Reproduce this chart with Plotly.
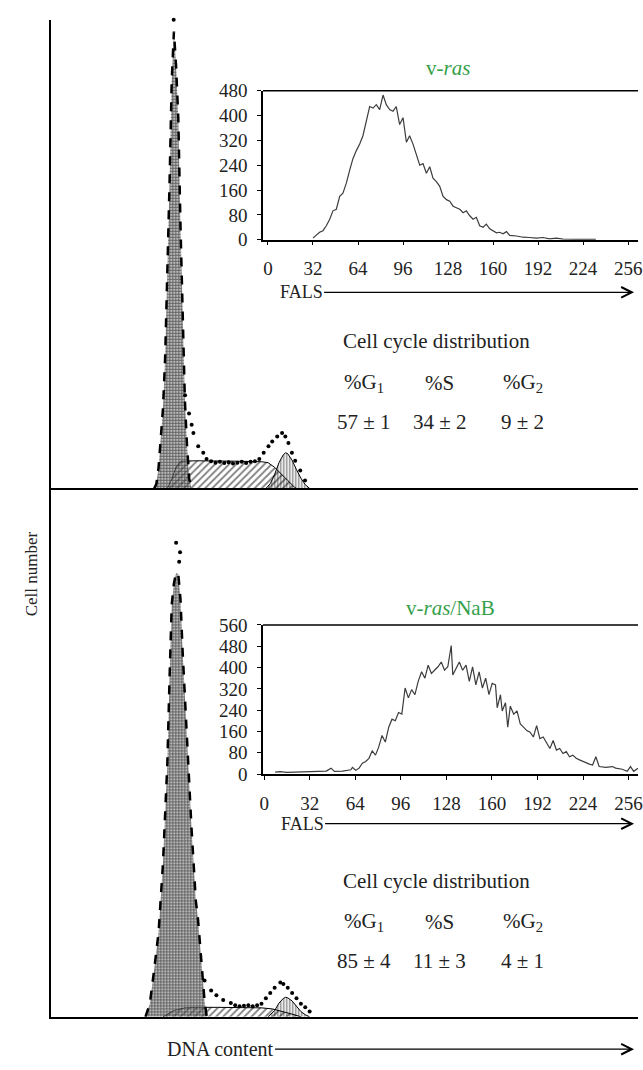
import plotly.graph_objects as go

# ---------------------------------------------------------------------------
# main DNA histograms (channel, cell count)

# v-ras : fitted G1 / S / G2 components and raw data points
UP_G1_CH = [41, 42, 43, 44, 45, 46, 47, 48, 49, 50, 51, 52, 53, 54, 55, 56, 57, 58]
UP_G1 = [0, 10, 45, 100, 170, 280, 440, 650, 870, 975, 900, 790, 560, 340, 190, 90, 20, 0]
UP_S_CH = [47, 49, 51, 53, 60, 70, 80, 90, 93, 96, 99, 102, 105, 106]
UP_S = [0, 20, 45, 58, 59, 59, 58, 57, 55, 45, 32, 17, 3, 0]
UP_G2_CH = [92, 94, 96, 98, 100, 101, 102, 104, 106, 108, 110, 112]
UP_G2 = [0, 10, 30, 55, 72, 76, 74, 60, 40, 22, 8, 0]
UP_DOT_CH = [49.9, 55.1, 56.9, 58.1, 58.9, 61.1, 63.4, 64.9, 67, 69, 71, 73, 75, 77, 79, 81,
             83, 85, 87, 89, 91, 93.2, 94.9, 97.2, 99.4, 100.9, 102.3, 103.9, 105.4, 107.7, 109.9]
UP_DOT = [1000, 199, 160, 136, 118, 90, 76, 63, 58, 55, 57, 54, 56, 53, 55, 57,
          54, 57, 58, 63, 76, 90, 100, 111, 118, 111, 97, 76, 59, 38, 17]

# v-ras/NaB
LO_G1_CH = [37, 39, 41, 43, 45, 46, 47, 48, 49, 50, 51, 52, 53, 54, 55, 56, 57, 58, 59, 60, 61, 62, 63, 64, 65]
LO_G1 = [0, 25, 90, 160, 290, 380, 480, 640, 780, 820, 840, 838, 790, 690, 600, 520, 440, 360, 290, 220,
         185, 130, 70, 30, 0]
LO_S_CH = [45, 50, 55, 60, 70, 80, 90, 95, 100, 105, 108]
LO_S = [0, 12, 17, 18, 18, 17, 17, 15, 10, 4, 0]
LO_G2_CH = [93, 96, 98, 100, 101, 102, 104, 106, 108, 110, 112]
LO_G2 = [0, 12, 26, 35, 37, 36, 30, 20, 10, 4, 0]
LO_DOT_CH = [51, 52.4, 52.8, 64, 67, 69.4, 72.5, 76, 78, 80, 82, 84, 86, 88, 90, 92, 94, 96,
             98.6, 100, 102, 104, 106, 108, 110, 112]
LO_DOT = [897, 861, 879, 69, 50, 41, 32, 26, 22, 20, 21, 22, 20, 22, 25, 35, 45, 55,
          65, 62, 55, 45, 35, 25, 18, 10]

# ---------------------------------------------------------------------------
# FALS insets

INS1_X = [32, 34.4, 36.7, 39.1, 41.5, 43.9, 46.2, 48.6, 51, 53.3, 55.7, 58.1, 60.4, 62.8, 65.2, 67.5,
          69.9, 72.3, 74.7, 77, 79.4, 81.8, 84.1, 86.5, 88.9, 91.2, 93.6, 96, 98.4, 100.7, 103.1,
          105.5, 107.9, 110.2, 112.6, 115, 117.3, 119.7, 122.1, 124.4, 126.8, 129.2, 131.6, 133.9,
          136.3, 138.7, 141, 143.4, 145.8, 148.1, 150.5, 152.9, 155.2, 157.6, 160, 162.4, 164.7,
          167.1, 169.5, 171.8, 176.6, 181.3, 186, 190.8, 195.5, 200.2, 205, 209.7, 219, 233]
INS1_Y = [5, 14, 24, 29, 45, 66, 93, 98, 140, 150, 182, 224, 261, 287, 308, 335,
          387, 429, 424, 435, 419, 466, 435, 419, 414, 429, 371, 393, 314, 335, 308,
          272, 240, 245, 214, 235, 198, 187, 172, 140, 129, 124, 108, 103,
          98, 87, 93, 77, 66, 72, 45, 40, 50, 35, 29, 22, 24,
          19, 26, 14, 12, 8, 7, 5, 7, 3, 5, 2, 1, 1]

INS2_X = [7.7, 11.2, 15.8, 22.8, 29.7, 36.6, 43.6, 47, 49.3, 55.1, 60.9, 62, 64.3, 66.7, 69, 71.3,
          73.6, 75.9, 78.2, 80.5, 82.8, 85.1, 87.5, 89.8, 92.1, 94.4, 96.7, 99, 101.3, 103.6, 105.9,
          108.2, 110.6, 112.9, 115.2, 117.5, 119.8, 122.1, 124.4, 126.7, 129, 131.4, 132.5, 134.8,
          137.1, 139.4, 141.8, 144.1, 146.4, 148.7, 151, 153.3, 155.6, 157.9, 160.2, 162.5, 163.7,
          166, 167.2, 169.5, 171.1, 172.9, 175.3, 177.6, 179.9, 182.2, 184.5, 186.8, 189.1, 191.4,
          193.7, 196, 198.4, 200.7, 203, 205.3, 207.6, 209.9, 212.2, 214.5, 216.8, 219.2, 221.5,
          223.8, 226.1, 228.4, 230.7, 233, 235.3, 240, 244.6, 246.9, 251.5, 255, 257.3, 259.6, 262.6]
INS2_Y = [7, 9, 6, 7, 9, 10, 11, 22, 10, 11, 16, 25, 14, 22, 41, 47,
          59, 87, 71, 102, 145, 120, 176, 206, 200, 231, 225, 323, 286, 317, 298,
          348, 384, 360, 409, 378, 390, 403, 421, 390, 403, 483, 372, 397,
          421, 390, 409, 348, 403, 335, 384, 323, 360, 298, 341, 335, 249,
          298, 237, 268, 176, 255, 225, 237, 188, 176, 163, 157, 139, 182,
          133, 139, 114, 96, 126, 90, 96, 77, 84, 65, 71, 59, 53,
          47, 41, 37, 34, 65, 28, 25, 28, 22, 18, 10, 28, 10, 22]

DIST_HEAD = ["%G<sub>1</sub>", "%S", "%G<sub>2</sub>"]
DIST_UP = ["57 ± 1", "34 ± 2", "9 ± 2"]
DIST_LO = ["85 ± 4", "11 ± 3", "4 ± 1"]

FONT = "Liberation Serif"
GREEN = "#35a04a"
W, H = 643, 1070


def px(x):
    return x / W


def py(y):
    return 1 - y / H


fig = go.Figure()


def add_hist(g1x, g1, sx, s, g2x, g2, dx, d, xa, ya):
    fig.add_trace(go.Scatter(x=sx, y=s, mode="lines", line=dict(color="black", width=1),
                             fill="tozeroy", fillcolor="rgba(0,0,0,0)",
                             fillpattern=dict(shape="/", fgcolor="black", bgcolor="rgba(0,0,0,0)",
                                              size=5, solidity=0.35),
                             xaxis=xa, yaxis=ya, showlegend=False))
    fig.add_trace(go.Scatter(x=g2x, y=g2, mode="lines", line=dict(color="black", width=1),
                             fill="tozeroy", fillcolor="rgba(0,0,0,0)",
                             fillpattern=dict(shape="|", fgcolor="black", bgcolor="rgba(0,0,0,0)",
                                              size=3, solidity=0.45),
                             xaxis=xa, yaxis=ya, showlegend=False))
    fig.add_trace(go.Scatter(x=g1x, y=g1, mode="lines", line=dict(color="black", width=2.5, dash="dash"),
                             fill="tozeroy", fillcolor="rgba(0,0,0,0)",
                             fillpattern=dict(shape="+", fgcolor="black", bgcolor="rgba(140,140,140,0.6)",
                                              size=3, solidity=0.5),
                             xaxis=xa, yaxis=ya, showlegend=False))
    fig.add_trace(go.Scatter(x=dx, y=d, mode="markers", marker=dict(color="black", size=4),
                             cliponaxis=False, xaxis=xa, yaxis=ya, showlegend=False))


add_hist(UP_G1_CH, UP_G1, UP_S_CH, UP_S, UP_G2_CH, UP_G2, UP_DOT_CH, UP_DOT, "x", "y")
add_hist(LO_G1_CH, LO_G1, LO_S_CH, LO_S, LO_G2_CH, LO_G2, LO_DOT_CH, LO_DOT, "x2", "y2")

fig.add_trace(go.Scatter(x=INS1_X, y=INS1_Y, mode="lines", line=dict(color="#3c3c3c", width=1.2),
                         xaxis="x3", yaxis="y3", showlegend=False))
fig.add_trace(go.Scatter(x=INS2_X, y=INS2_Y, mode="lines", line=dict(color="#3c3c3c", width=1.2),
                         xaxis="x4", yaxis="y4", showlegend=False))

main_x = dict(range=[-6, 262], showgrid=False, zeroline=False, showticklabels=False, ticks="",
              showline=True, linecolor="black", linewidth=2.2)
main_y = dict(range=[0, 1000], showgrid=False, zeroline=False, showticklabels=False, ticks="",
              showline=True, linecolor="black", linewidth=2.2)
tickfont = dict(family=FONT, size=19, color="#222")
ins_x = dict(showgrid=False, zeroline=False, tick0=0, dtick=32, ticks="outside", ticklen=4,
             tickcolor="black", showline=True, linecolor="black", linewidth=1.5,
             tickfont=tickfont, ticklabelstandoff=7, ticklabeloverflow="allow")
ins_y = dict(showgrid=False, zeroline=False, tick0=0, dtick=80, ticks="outside", ticklen=4,
             tickcolor="black", showline=True, linecolor="black", linewidth=1.5,
             tickfont=tickfont, ticklabelstandoff=6)

fig.update_layout(
    width=W, height=H, margin=dict(l=0, r=0, t=0, b=0),
    paper_bgcolor="white", plot_bgcolor="rgba(0,0,0,0)",
    font=dict(family=FONT, size=21, color="#222"),
    xaxis=dict(main_x, domain=[px(48), 1], anchor="y"),
    yaxis=dict(main_y, domain=[py(488), py(10)], anchor="x"),
    xaxis2=dict(main_x, domain=[px(48), 1], anchor="y2"),
    yaxis2=dict(main_y, domain=[py(1027), py(488)], anchor="x2"),
    xaxis3=dict(ins_x, range=[-3.5, 263], domain=[px(262.7), 1], anchor="y3"),
    yaxis3=dict(ins_y, range=[0, 480], domain=[py(234.3), py(82.3)], anchor="x3"),
    xaxis4=dict(ins_x, range=[-0.8, 262.6], domain=[px(262.7), 1], anchor="y4"),
    yaxis4=dict(ins_y, range=[0, 560], domain=[py(779.3), py(627.3)], anchor="x4"),
)

# top border of the insets
for n in ("3", "4"):
    fig.add_shape(type="line", xref="x%s domain" % n, yref="y%s domain" % n,
                  x0=0, x1=1, y0=1, y1=1, line=dict(color="black", width=1.5))

ann = []
ann.append(dict(text="v-<i>ras</i>", x=px(450), y=py(59), font=dict(color=GREEN, size=21)))
ann.append(dict(text="v-<i>ras</i>/NaB", x=px(453), y=py(610), font=dict(color=GREEN, size=21)))

# FALS / DNA content arrows (text at the tail, arrow head at the right edge)
arrow = dict(showarrow=True, arrowhead=5, arrowsize=1.6, arrowwidth=1.3, arrowcolor="black", ay=0)
for yy, cx in ((288, 306), (830, 307)):
    ann.append(dict(arrow, text="FALS", x=px(639), y=py(yy), ax=cx - 639, font=dict(size=18)))
ann.append(dict(arrow, text="DNA content", x=px(639), y=py(1060), ax=225 - 639, font=dict(size=20)))
ann.append(dict(text="Cell number", x=px(28), y=py(575), textangle=-90, font=dict(size=17)))

# cell cycle distribution tables
for top, vals in ((338, DIST_UP), (888, DIST_LO)):
    ann.append(dict(text="Cell cycle distribution", x=px(342), y=py(top), xanchor="left"))
    for i, (h, v) in enumerate(zip(DIST_HEAD, vals)):
        cx = [365, 442, 526][i]
        ann.append(dict(text=h, x=px(cx), y=py(top + 42)))
        ann.append(dict(text=v, x=px(cx), y=py(top + 82)))

for a in ann:
    a.setdefault("xref", "paper")
    a.setdefault("yref", "paper")
    a.setdefault("xanchor", "center")
    a.setdefault("yanchor", "middle")
    a.setdefault("showarrow", False)
fig.update_layout(annotations=ann)

fig.write_html("out.html", config={"displayModeBar": False},
               post_script="document.body.style.margin='0px';")
